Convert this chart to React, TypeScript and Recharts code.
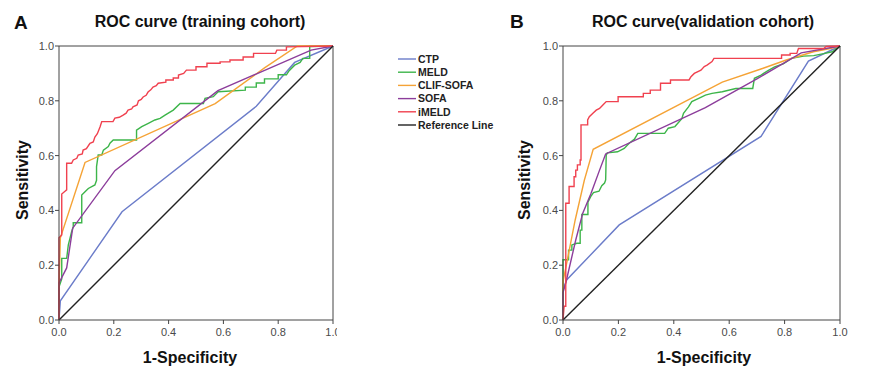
import React from "react";
import { LineChart, Line, XAxis, YAxis, ReferenceLine } from "recharts";

type Pt = [number, number];

// [1 - specificity, sensitivity]
const ctpTrain: Pt[] = [[0, 0], [0.005, 0.07], [0.23, 0.395], [0.72, 0.78], [0.86, 0.94], [1, 1]];
const meldTrain: Pt[] = [
  [0, 0], [0, 0.12], [0.01, 0.15], [0.01, 0.225], [0.028, 0.225], [0.034, 0.274], [0.04, 0.298],
  [0.046, 0.322], [0.052, 0.34], [0.052, 0.355], [0.083, 0.355], [0.083, 0.456], [0.095, 0.468],
  [0.107, 0.48], [0.131, 0.493], [0.137, 0.51], [0.137, 0.56], [0.143, 0.602], [0.156, 0.602],
  [0.162, 0.62], [0.18, 0.633], [0.186, 0.645], [0.198, 0.657], [0.283, 0.657], [0.283, 0.693],
  [0.302, 0.706], [0.326, 0.718], [0.35, 0.73], [0.369, 0.736], [0.387, 0.748], [0.417, 0.766],
  [0.442, 0.79], [0.527, 0.79], [0.533, 0.809], [0.563, 0.815], [0.581, 0.833], [0.68, 0.839],
  [0.68, 0.85], [0.72, 0.85], [0.72, 0.865], [0.75, 0.865], [0.75, 0.88], [0.8, 0.88], [0.8, 0.895],
  [0.83, 0.895], [0.84, 0.91], [0.86, 0.93], [0.88, 0.94], [0.89, 0.955], [0.915, 0.955],
  [0.915, 0.998], [1, 1],
];
const clifTrain: Pt[] = [[0, 0], [0, 0.12], [0.005, 0.3], [0.095, 0.575], [0.57, 0.79], [0.75, 0.92], [0.87, 1], [1, 1]];
const sofaTrain: Pt[] = [[0, 0], [0, 0.135], [0.028, 0.19], [0.05, 0.335], [0.204, 0.545], [0.58, 0.837], [0.92, 0.985], [1, 1]];
const imeldTrain: Pt[] = [
  [0, 0], [0, 0.3], [0.01, 0.31], [0.01, 0.46], [0.022, 0.47], [0.028, 0.475], [0.028, 0.572],
  [0.046, 0.572], [0.052, 0.584], [0.065, 0.59], [0.07, 0.602], [0.085, 0.606], [0.088, 0.62],
  [0.1, 0.625], [0.113, 0.645], [0.125, 0.65], [0.131, 0.668], [0.14, 0.68], [0.15, 0.705],
  [0.156, 0.724], [0.197, 0.724], [0.204, 0.737], [0.22, 0.74], [0.234, 0.748], [0.245, 0.755],
  [0.252, 0.766], [0.265, 0.77], [0.27, 0.778], [0.285, 0.785], [0.29, 0.8], [0.3, 0.805],
  [0.307, 0.814], [0.318, 0.82], [0.325, 0.832], [0.335, 0.84], [0.343, 0.85], [0.355, 0.855],
  [0.362, 0.864], [0.39, 0.868], [0.39, 0.876], [0.417, 0.876], [0.417, 0.883], [0.436, 0.883],
  [0.436, 0.894], [0.455, 0.9], [0.465, 0.912], [0.5, 0.912], [0.5, 0.924], [0.54, 0.924],
  [0.54, 0.937], [0.588, 0.937], [0.588, 0.942], [0.624, 0.942], [0.624, 0.949], [0.672, 0.949],
  [0.672, 0.96], [0.71, 0.96], [0.71, 0.973], [0.79, 0.973], [0.795, 0.985], [0.83, 0.985],
  [0.83, 0.997], [1, 1],
];

const ctpValid: Pt[] = [[0, 0], [0, 0.11], [0.013, 0.146], [0.203, 0.347], [0.715, 0.67], [0.886, 0.945], [1, 1]];
const meldValid: Pt[] = [
  [0, 0], [0, 0.22], [0.02, 0.22], [0.02, 0.255], [0.032, 0.255], [0.032, 0.274], [0.05, 0.28],
  [0.062, 0.28], [0.062, 0.328], [0.068, 0.328], [0.068, 0.385], [0.09, 0.385], [0.09, 0.43],
  [0.1, 0.45], [0.11, 0.465], [0.13, 0.47], [0.14, 0.49], [0.15, 0.5], [0.154, 0.511],
  [0.156, 0.6], [0.16, 0.61], [0.197, 0.614], [0.221, 0.626], [0.239, 0.645], [0.258, 0.66],
  [0.27, 0.681], [0.367, 0.681], [0.38, 0.7], [0.404, 0.706], [0.429, 0.735], [0.435, 0.754],
  [0.453, 0.778], [0.465, 0.797], [0.49, 0.809], [0.514, 0.821], [0.538, 0.827], [0.575, 0.833],
  [0.624, 0.845], [0.685, 0.845], [0.691, 0.882], [0.715, 0.894], [0.74, 0.91], [0.764, 0.924],
  [0.795, 0.935], [0.825, 0.955], [0.868, 0.963], [0.905, 0.965], [0.941, 0.972], [0.972, 0.979], [1, 1],
];
const clifValid: Pt[] = [
  [0, 0], [0, 0.14], [0.01, 0.19], [0.044, 0.365], [0.077, 0.51], [0.109, 0.623], [0.575, 0.868],
  [0.72, 0.918], [0.806, 0.949], [0.904, 0.979], [0.965, 0.991], [1, 1],
];
const sofaValid: Pt[] = [
  [0, 0], [0, 0.1], [0.01, 0.135], [0.046, 0.292], [0.071, 0.389], [0.101, 0.462], [0.132, 0.547],
  [0.154, 0.606], [0.514, 0.775], [0.7, 0.88], [0.86, 0.975], [1, 1],
];
const imeldValid: Pt[] = [
  [0, 0], [0.004, 0.05], [0.01, 0.05], [0.01, 0.426], [0.022, 0.426], [0.022, 0.487], [0.04, 0.487],
  [0.04, 0.523], [0.046, 0.523], [0.046, 0.547], [0.052, 0.547], [0.052, 0.566], [0.062, 0.566],
  [0.062, 0.584], [0.065, 0.584], [0.065, 0.712], [0.089, 0.712], [0.089, 0.73], [0.095, 0.742],
  [0.107, 0.754], [0.12, 0.766], [0.132, 0.772], [0.144, 0.785], [0.156, 0.797], [0.199, 0.797],
  [0.199, 0.815], [0.29, 0.815], [0.29, 0.827], [0.315, 0.827], [0.315, 0.839], [0.352, 0.839],
  [0.352, 0.864], [0.388, 0.864], [0.388, 0.876], [0.455, 0.876], [0.462, 0.888], [0.474, 0.9],
  [0.498, 0.912], [0.51, 0.925], [0.52, 0.93], [0.538, 0.943], [0.545, 0.955], [0.789, 0.955],
  [0.789, 0.967], [0.82, 0.967], [0.82, 0.973], [0.844, 0.973], [0.85, 0.991], [0.941, 0.991],
  [0.95, 0.998], [1, 1],
];

const refLine: Pt[] = [[0, 0], [1, 1]];

const seriesNames = ["CTP", "MELD", "CLIF-SOFA", "SOFA", "iMELD", "Reference Line"];
const seriesColors = ["#6b7cc9", "#3db54a", "#f5a336", "#8c3d9b", "#f0414f", "#222222"];
const axisTicks = [0, 0.2, 0.4, 0.6, 0.8, 1.0];

const trainCurves = [ctpTrain, meldTrain, clifTrain, sofaTrain, imeldTrain, refLine];
const validCurves = [ctpValid, meldValid, clifValid, sofaValid, imeldValid, refLine];

const FONT = '"Liberation Sans", Arial, Helvetica, sans-serif';
const tickStyle = { fill: "#4a4a4a", fontSize: 11 };

function RocPanel({ curves, width, right }: { curves: Pt[][]; width: number; right: number }) {
  return (
    <LineChart width={width} height={379} margin={{ top: 46, right, bottom: 29, left: 0 }}>
      <XAxis
        type="number"
        dataKey="x"
        domain={[0, 1]}
        ticks={axisTicks}
        tickFormatter={(v: number) => v.toFixed(1)}
        tick={tickStyle}
        stroke="#444"
        tickSize={4}
        tickMargin={4}
        height={30}
        interval={0}
      />
      <YAxis
        type="number"
        dataKey="y"
        domain={[0, 1]}
        ticks={axisTicks}
        tickFormatter={(v: number) => v.toFixed(1)}
        tick={tickStyle}
        stroke="#444"
        tickSize={4}
        tickMargin={1}
        width={59}
        interval={0}
      />
      <ReferenceLine y={1} stroke="#444" />
      <ReferenceLine x={1} stroke="#444" />
      {curves.map((c, i) => (
        <Line
          key={seriesNames[i]}
          data={c.map(([x, y]) => ({ x, y }))}
          dataKey="y"
          type="linear"
          stroke={seriesColors[i]}
          strokeWidth={1.4}
          dot={false}
          activeDot={false}
          isAnimationActive={false}
        />
      ))}
    </LineChart>
  );
}

export default function App() {
  return (
    <div
      style={{
        position: "absolute",
        left: 0,
        top: 0,
        width: 873,
        height: 379,
        background: "#fff",
        overflow: "hidden",
        fontFamily: FONT,
      }}
    >
      <div style={{ position: "absolute", left: 0, top: 0, width: 337, height: 379, overflow: "hidden" }}>
        <RocPanel curves={trainCurves} width={337} right={4} />
      </div>
      <div style={{ position: "absolute", left: 504, top: 0, width: 350, height: 379 }}>
        <RocPanel curves={validCurves} width={350} right={14} />
      </div>

      <svg
        width={873}
        height={379}
        style={{ position: "absolute", left: 0, top: 0, pointerEvents: "none", fontFamily: FONT }}
      >
        <g fontWeight="bold" fill="#111">
          <text x={14} y={29} fontSize={19}>A</text>
          <text x={200} y={27} fontSize={16} textAnchor="middle">ROC curve (training cohort)</text>
          <text x={510} y={28} fontSize={19}>B</text>
          <text x={703} y={27} fontSize={16} textAnchor="middle">ROC curve(validation cohort)</text>
          <text x={190} y={363} fontSize={16} textAnchor="middle">1-Specificity</text>
          <text x={704} y={363} fontSize={16} textAnchor="middle">1-Specificity</text>
          <text x={28} y={180} fontSize={16} textAnchor="middle" transform="rotate(-90 28 180)">Sensitivity</text>
          <text x={530} y={180} fontSize={16} textAnchor="middle" transform="rotate(-90 530 180)">Sensitivity</text>
        </g>
        <g fontWeight="bold" fontSize={10.5} fill="#222">
          {seriesNames.map((name, i) => {
            const y = 59 + i * 13.2;
            return (
              <g key={name}>
                <line x1={398} x2={416} y1={y} y2={y} stroke={seriesColors[i]} strokeWidth={1.4} />
                <text x={418} y={y + 3.8}>{name}</text>
              </g>
            );
          })}
        </g>
      </svg>
    </div>
  );
}
